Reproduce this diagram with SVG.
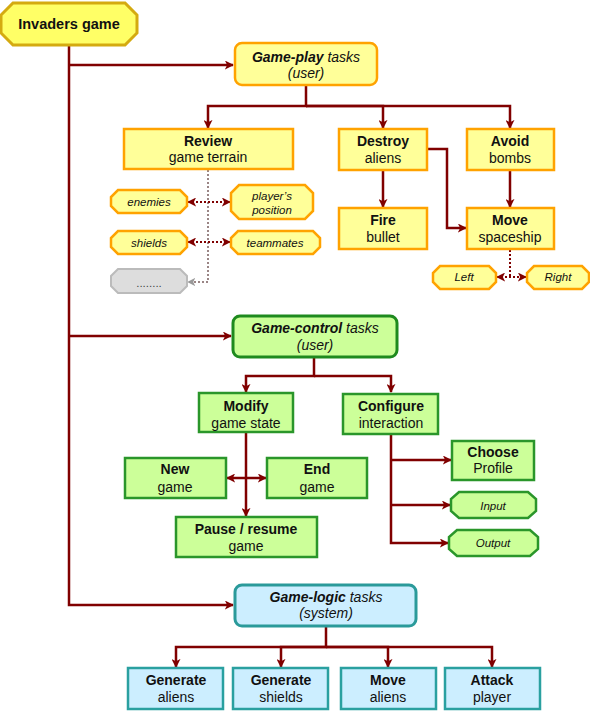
<svg xmlns="http://www.w3.org/2000/svg" width="590" height="723" viewBox="0 0 590 723">
<defs>
<marker id="ah" viewBox="0 0 10 10" refX="9" refY="5" markerWidth="9" markerHeight="9" markerUnits="userSpaceOnUse" orient="auto-start-reverse">
<path d="M0,0 L10,5 L0,10 L2.5,5 z" fill="#800000"/>
</marker>
<marker id="ahg" viewBox="0 0 10 10" refX="9" refY="5" markerWidth="8" markerHeight="8" markerUnits="userSpaceOnUse" orient="auto-start-reverse">
<path d="M0,0 L10,5 L0,10 L2.5,5 z" fill="#999999"/>
</marker>
</defs>
<style>
text{font-family:"Liberation Sans",Arial,sans-serif;fill:#111;text-anchor:middle}
.b{font-weight:bold;font-size:14px}
.n{font-size:14px}
.i{font-style:italic;font-size:14px}
.s{font-style:italic;font-size:11.5px}
.yb{fill:#ffff99;stroke:#ffa200;stroke-width:2.5}
.gb{fill:#ccff99;stroke:#2a962a;stroke-width:2.5}
.cb{fill:#cceeff;stroke:#2aa0a0;stroke-width:2.5}
.c{fill:none;stroke:#800000;stroke-width:2.5}
.d{fill:none;stroke:#800000;stroke-width:2;stroke-dasharray:2 2}
.dg{fill:none;stroke:#9a8585;stroke-width:2;stroke-dasharray:2 2}
</style>

<g id="connectors">
<path class="c" d="M69,45 V605 H233" marker-end="url(#ah)"/>
<path class="c" d="M69,65 H233" marker-end="url(#ah)"/>
<path class="c" d="M69,336 H231" marker-end="url(#ah)"/>
<path class="c" d="M306,85 V106 H208 V128" marker-end="url(#ah)"/>
<path class="c" d="M306,106 H383 V128" marker-end="url(#ah)"/>
<path class="c" d="M306,106 H510 V128" marker-end="url(#ah)"/>
<path class="c" d="M383,170 V207" marker-end="url(#ah)"/>
<path class="c" d="M510,170 V207" marker-end="url(#ah)"/>
<path class="c" d="M427,149 H447 V228 H466" marker-end="url(#ah)"/>
<path class="d" d="M510,250 V277"/>
<path class="d" d="M497,277 H526" marker-start="url(#ah)" marker-end="url(#ah)"/>
<path class="dg" d="M208,170 V282 H188" marker-end="url(#ahg)"/>
<path class="d" d="M188,202 H230" marker-start="url(#ah)" marker-end="url(#ah)"/>
<path class="d" d="M188,242 H230" marker-start="url(#ah)" marker-end="url(#ah)"/>
<path class="c" d="M314,358 V376 H246 V392" marker-end="url(#ah)"/>
<path class="c" d="M314,376 H391 V392" marker-end="url(#ah)"/>
<path class="c" d="M246,433 V516" marker-end="url(#ah)"/>
<path class="c" d="M227,478 H266" marker-start="url(#ah)" marker-end="url(#ah)"/>
<path class="c" d="M391,435 V543 H448" marker-end="url(#ah)"/>
<path class="c" d="M391,460 H451" marker-end="url(#ah)"/>
<path class="c" d="M391,505 H450" marker-end="url(#ah)"/>
<path class="c" d="M326,627 V647 H176 V667" marker-end="url(#ah)"/>
<path class="c" d="M326,647 H281 V667" marker-end="url(#ah)"/>
<path class="c" d="M326,647 H388 V667" marker-end="url(#ah)"/>
<path class="c" d="M326,647 H492 V667" marker-end="url(#ah)"/>
</g>

<g id="invaders-game">
<polygon points="13,3 125,3 137,15 137,33 125,45 13,45 1,33 1,15" fill="#ffff66" stroke="#d4aa10" stroke-width="3"/>
<text class="b" x="69" y="29" style="font-size:14.5px">Invaders game</text>
</g>

<g id="game-play">
<rect class="yb" x="235" y="43" width="142" height="42" rx="7"/>
<text class="i" x="306" y="62"><tspan font-weight="bold">Game-play</tspan> tasks</text>
<text class="i" x="306" y="78">(user)</text>
</g>

<g id="review">
<rect class="yb" x="124" y="129" width="169" height="40"/>
<text class="b" x="208" y="146">Review</text>
<text class="n" x="208" y="162">game terrain</text>
</g>

<g id="destroy">
<rect class="yb" x="339" y="129" width="88" height="41"/>
<text class="b" x="383" y="146">Destroy</text>
<text class="n" x="383" y="163">aliens</text>
</g>

<g id="avoid">
<rect class="yb" x="467" y="129" width="87" height="41"/>
<text class="b" x="510" y="146">Avoid</text>
<text class="n" x="510" y="163">bombs</text>
</g>

<g id="fire">
<rect class="yb" x="339" y="208" width="88" height="41"/>
<text class="b" x="383" y="225">Fire</text>
<text class="n" x="383" y="242">bullet</text>
</g>

<g id="move">
<rect class="yb" x="467" y="208" width="87" height="41"/>
<text class="b" x="510" y="225">Move</text>
<text class="n" x="510" y="242">spaceship</text>
</g>

<g id="left">
<polygon points="440,266 489,266 496,273 496,282 489,289 440,289 433,282 433,273" class="yb"/>
<text class="s" x="464" y="281">Left</text>
</g>

<g id="right">
<polygon points="534,266 582,266 589,273 589,282 582,289 534,289 527,282 527,273" class="yb"/>
<text class="s" x="558" y="281">Right</text>
</g>

<g id="enemies">
<polygon points="118,190 180,190 187,197 187,206 180,213 118,213 111,206 111,197" class="yb"/>
<text class="s" x="149" y="206">enemies</text>
</g>

<g id="players-position">
<polygon points="239,185 305,185 313,193 313,211 305,219 239,219 231,211 231,193" class="yb"/>
<text class="s" x="272" y="200">player’s</text>
<text class="s" x="272" y="214">position</text>
</g>

<g id="shields">
<polygon points="118,231 180,231 187,238 187,247 180,254 118,254 111,247 111,238" class="yb"/>
<text class="s" x="149" y="247">shields</text>
</g>

<g id="teammates">
<polygon points="238,231 313,231 320,238 320,247 313,254 238,254 231,247 231,238" class="yb"/>
<text class="s" x="275" y="247">teammates</text>
</g>

<g id="more">
<polygon points="118,269 180,269 187,276 187,286 180,293 118,293 111,286 111,276" fill="#dddddd" stroke="#bbbbbb" stroke-width="2"/>
<text class="s" x="149" y="287" style="font-style:normal;fill:#444">........</text>
</g>

<g id="game-control">
<rect x="233" y="316" width="164" height="41" rx="7" fill="#ccff99" stroke="#1e8a1e" stroke-width="3"/>
<text class="i" x="315" y="333"><tspan font-weight="bold">Game-control</tspan> tasks</text>
<text class="i" x="315" y="350">(user)</text>
</g>

<g id="modify">
<rect class="gb" x="199" y="393" width="94" height="39"/>
<text class="b" x="246" y="411">Modify</text>
<text class="n" x="246" y="428">game state</text>
</g>

<g id="configure">
<rect class="gb" x="343" y="394" width="95" height="40"/>
<text class="b" x="391" y="411">Configure</text>
<text class="n" x="391" y="428">interaction</text>
</g>

<g id="new">
<rect class="gb" x="125" y="458" width="101" height="40"/>
<text class="b" x="175" y="474">New</text>
<text class="n" x="175" y="492">game</text>
</g>

<g id="end">
<rect class="gb" x="267" y="458" width="100" height="40"/>
<text class="b" x="317" y="474">End</text>
<text class="n" x="317" y="492">game</text>
</g>

<g id="pause">
<rect class="gb" x="176" y="517" width="141" height="40"/>
<text class="b" x="246" y="534">Pause / resume</text>
<text class="n" x="246" y="551">game</text>
</g>

<g id="choose">
<rect class="gb" x="452" y="441" width="82" height="39"/>
<text class="b" x="493" y="457">Choose</text>
<text class="n" x="493" y="473">Profile</text>
</g>

<g id="input">
<polygon points="459,492 528,492 536,499 536,511 528,518 459,518 451,511 451,499" class="gb"/>
<text class="s" x="493" y="510">Input</text>
</g>

<g id="output">
<polygon points="457,530 530,530 538,537 538,549 530,556 457,556 449,549 449,537" class="gb"/>
<text class="s" x="493" y="547">Output</text>
</g>

<g id="game-logic">
<rect x="235" y="585" width="181" height="41" rx="7" fill="#cceeff" stroke="#2a9a9a" stroke-width="3"/>
<text class="i" x="326" y="602"><tspan font-weight="bold">Game-logic</tspan> tasks</text>
<text class="i" x="326" y="618">(system)</text>
</g>

<g id="generate-aliens">
<rect class="cb" x="128" y="668" width="95" height="41"/>
<text class="b" x="176" y="685">Generate</text>
<text class="n" x="176" y="702">aliens</text>
</g>

<g id="generate-shields">
<rect class="cb" x="233" y="668" width="95" height="41"/>
<text class="b" x="281" y="685">Generate</text>
<text class="n" x="281" y="702">shields</text>
</g>

<g id="move-aliens">
<rect class="cb" x="341" y="668" width="95" height="41"/>
<text class="b" x="388" y="685">Move</text>
<text class="n" x="388" y="702">aliens</text>
</g>

<g id="attack-player">
<rect class="cb" x="445" y="668" width="95" height="41"/>
<text class="b" x="492" y="685">Attack</text>
<text class="n" x="492" y="702">player</text>
</g>
</svg>
